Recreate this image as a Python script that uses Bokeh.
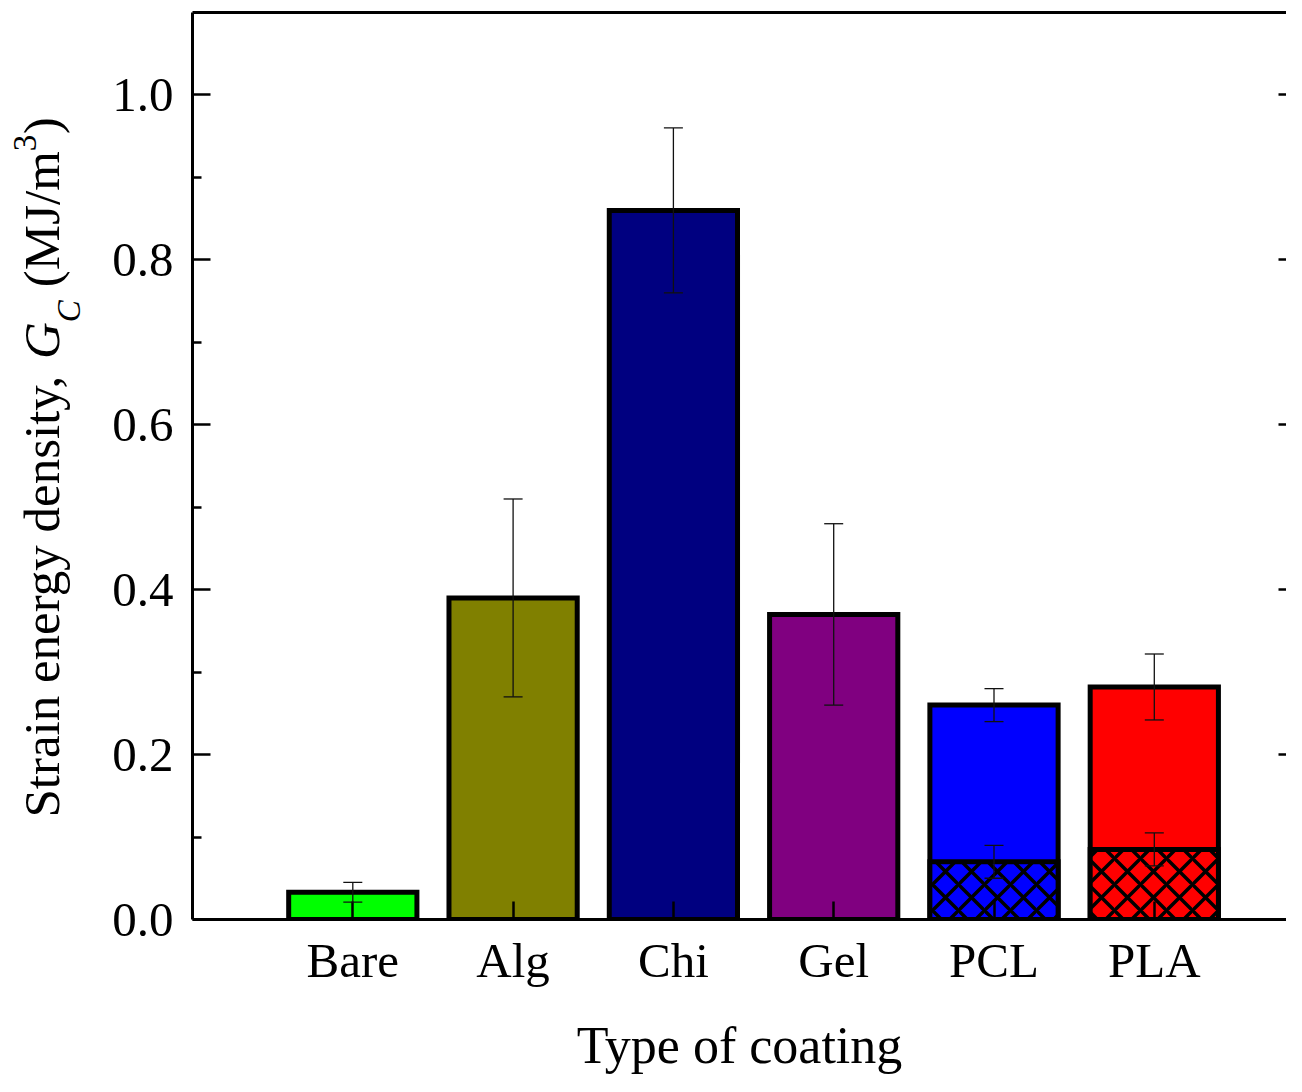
import math
from bokeh.plotting import figure
from bokeh.layouts import row
from bokeh.models import (ColumnDataSource, Range1d, FixedTicker, LinearAxis,
                          PrintfTickFormatter, Whisker, TeeHead)
from bokeh.core.properties import value
from bokeh.embed import file_html
from bokeh.resources import INLINE

# ---------------- data ----------------
categories = ["Bare", "Alg", "Chi", "Gel", "PCL", "PLA"]
total_values = [0.033, 0.39, 0.86, 0.37, 0.26, 0.282]
total_err_upper = [0.045, 0.51, 0.96, 0.48, 0.28, 0.322]
total_err_lower = [0.021, 0.27, 0.76, 0.26, 0.24, 0.242]
bar_colors = ["#00FF00", "#808000", "#000080", "#800080", "#0000FF", "#FF0000"]

hatched_categories = ["PCL", "PLA"]
hatched_values = [0.07, 0.085]
hatched_err_upper = [0.09, 0.105]
hatched_err_lower = [0.05, 0.065]
hatched_colors = ["#0000FF", "#FF0000"]

y_ticks = [0.0, 0.2, 0.4, 0.6, 0.8, 1.0]
y_minor_ticks = [0.1, 0.3, 0.5, 0.7, 0.9]

x_title = "Type of coating"
y_title_parts = ["Strain energy density, ", "G", "C", "(MJ/m", "3", ")"]

FONT = "Liberation Serif"

xpos = [i + 1 for i in range(len(categories))]
hx = [categories.index(c) + 1 for c in hatched_categories]

src = ColumnDataSource(dict(x=xpos, top=total_values, up=total_err_upper,
                            lo=total_err_lower, color=bar_colors))
hsrc = ColumnDataSource(dict(x=hx, top=hatched_values, up=hatched_err_upper,
                             lo=hatched_err_lower, color=hatched_colors))

TOTAL_W, H = 1286, 1076
LEFT_W = 100
MAIN_W = TOTAL_W - LEFT_W
FRAME_LEFT, FRAME_TOP, FRAME_BOTTOM = 192, 12, 920
PX_PER_X = 160.3
x_end = (TOTAL_W - FRAME_LEFT) / PX_PER_X

p = figure(width=MAIN_W, height=H, output_backend="svg", toolbar_location=None,
           x_range=Range1d(0, x_end), y_range=Range1d(0, 1.1),
           min_border_left=FRAME_LEFT - LEFT_W, min_border_right=0,
           min_border_top=FRAME_TOP, min_border_bottom=H - FRAME_BOTTOM)
p.outline_line_color = None
p.grid.visible = False
p.background_fill_color = "white"
p.border_fill_color = "white"

# bars
p.vbar(x="x", top="top", bottom=0, width=0.8, source=src, fill_color="color",
       line_color="black", line_width=5, line_join="miter")
p.vbar(x="x", top="top", bottom=0, width=0.8, source=hsrc, fill_color="color",
       line_color="black", line_width=5, line_join="miter",
       hatch_pattern="diagonal_cross", hatch_color="black", hatch_weight=3.5,
       hatch_scale=26)

# error bars
for s in (src, hsrc):
    w = Whisker(base="x", upper="up", lower="lo", source=s, dimension="height",
                line_color="#111111", line_width=1.3, level="annotation",
                upper_head=TeeHead(size=19, line_width=1.3, line_color="#111111"),
                lower_head=TeeHead(size=19, line_width=1.3, line_color="#111111"))
    p.add_layout(w)

# x axis
xa = p.xaxis[0]
xa.ticker = FixedTicker(ticks=xpos)
xa.major_label_overrides = {x: c for x, c in zip(xpos, categories)}
xa.major_tick_in = 18
xa.major_tick_out = 0
xa.minor_tick_in = 0
xa.minor_tick_out = 0
xa.axis_line_width = 3
xa.major_tick_line_width = 2.5
xa.major_label_text_font = FONT
xa.major_label_text_font_size = "49px"
xa.major_label_text_color = "black"
xa.major_label_standoff = 13
xa.axis_label = x_title
xa.axis_label_text_font = FONT
xa.axis_label_text_font_size = "52px"
xa.axis_label_text_font_style = "normal"
xa.axis_label_text_color = "black"
xa.axis_label_standoff = 26

# y axis
ya = p.yaxis[0]
ya.ticker = FixedTicker(ticks=y_ticks, minor_ticks=y_minor_ticks)
ya.formatter = PrintfTickFormatter(format="%.1f")
ya.major_tick_in = 18
ya.major_tick_out = 0
ya.minor_tick_in = 9
ya.minor_tick_out = 0
ya.axis_line_width = 3
ya.major_tick_line_width = 2.5
ya.minor_tick_line_width = 2.5
ya.major_label_text_font = FONT
ya.major_label_text_font_size = "49px"
ya.major_label_text_color = "black"
ya.major_label_standoff = 19

# right axis (ticks only; its line lies beyond the visible area)
ra = LinearAxis(ticker=FixedTicker(ticks=y_ticks), major_tick_in=8, major_tick_out=0,
                minor_tick_in=0, minor_tick_out=0, axis_line_color=None,
                major_tick_line_width=2.5, major_label_standoff=0,
                major_label_overrides={t: "" for t in y_ticks})
p.add_layout(ra, "right")

# top axis (line only)
ta = LinearAxis(ticker=FixedTicker(ticks=[]), major_tick_in=0, major_tick_out=0,
                minor_tick_in=0, minor_tick_out=0, axis_line_width=3,
                major_label_standoff=0)
p.add_layout(ta, "above")

# ---- y title (rich text) in a narrow side panel; its frame shares the main
# frame's vertical extent, and its ranges are in page pixels ----
q = figure(width=LEFT_W, height=H, output_backend="svg", toolbar_location=None,
           x_range=Range1d(0, LEFT_W), y_range=Range1d(FRAME_BOTTOM, FRAME_TOP),
           x_axis_type=None, y_axis_type=None,
           min_border_left=0, min_border_right=0,
           min_border_top=FRAME_TOP, min_border_bottom=H - FRAME_BOTTOM)
q.outline_line_color = None
q.grid.visible = False
q.border_fill_color = "white"
q.background_fill_color = "white"

# (baseline x px, start y px, size px, style)
piece_layout = [
    (63, 818, 51, "normal"),
    (63, 359, 51, "italic"),
    (82, 322, 33, "italic"),
    (63, 287, 51, "normal"),
    (38, 151, 33, "normal"),
    (63, 134, 51, "normal"),
]
for txt, (bx, sy, fs, st) in zip(y_title_parts, piece_layout):
    q.text(x=[bx - 0.42 * fs], y=[sy], text=[txt], angle=math.pi / 2, text_align="left",
           text_baseline="alphabetic", text_font=value(FONT), text_font_size=f"{fs}px",
           text_font_style=st, text_color="black")

layout = row(q, p, spacing=0)
open("out.html", "w").write(file_html(layout, INLINE))
